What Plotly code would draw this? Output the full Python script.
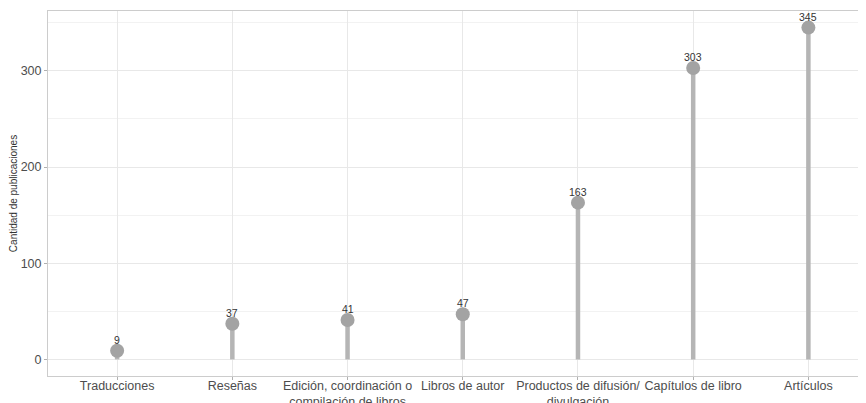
import plotly.graph_objects as go

categories = ["Traducciones", "Reseñas", "Edición, coordinación o<br>compilación de libros",
              "Libros de autor", "Productos de difusión/<br>divulgación", "Capítulos de libro", "Artículos"]
values = [9, 37, 41, 47, 163, 303, 345]
y_ticks = [0, 100, 200, 300]

idx = list(range(len(categories)))
seg_x, seg_y = [], []
for i, v in zip(idx, values):
    seg_x += [i, i, None]
    seg_y += [0, v, None]

fig = go.Figure()
fig.add_trace(go.Scatter(x=seg_x, y=seg_y, mode="lines",
                         line=dict(color="#b5b5b5", width=4.5), hoverinfo="skip", showlegend=False))
fig.add_trace(go.Scatter(x=idx, y=values, mode="markers",
                         marker=dict(size=14, color="#a3a3a3"), showlegend=False))
for i, v in zip(idx, values):
    fig.add_annotation(x=i, y=v, text=str(v), showarrow=False, yshift=11,
                       font=dict(size=10.5, color="#333333", family="Liberation Sans"))

fig.update_layout(
    width=858, height=395,
    margin=dict(l=40, r=0, t=3, b=27, autoexpand=False),
    paper_bgcolor="white", plot_bgcolor="white",
    font=dict(family="Liberation Sans", color="#4d4d4d"),
    xaxis=dict(range=[-0.6, 6.5], tickvals=idx, ticktext=categories, automargin=False,
               showgrid=True, gridcolor="#e8e8e8", gridwidth=1,
               showline=True, linecolor="#cccccc", linewidth=1, mirror=True,
               ticks="outside", ticklen=3, tickcolor="#b0b0b0", ticklabelstandoff=-5,
               tickfont=dict(size=12.5, color="#4d4d4d"), zeroline=False),
    yaxis=dict(range=[-17.25, 362.25], tickvals=y_ticks, automargin=False,
               showgrid=True, gridcolor="#e8e8e8", gridwidth=1,
               minor=dict(dtick=50, tick0=50, showgrid=True, gridcolor="#f2f2f2", gridwidth=1),
               showline=True, linecolor="#cccccc", linewidth=1,
               ticks="outside", ticklen=3, tickcolor="#b0b0b0",
               tickfont=dict(size=12.5, color="#4d4d4d"), zeroline=False,
               title=dict(text="Cantidad de publicaciones", font=dict(size=10, color="#333333"), standoff=6)),
)
fig.write_html("out.html")
